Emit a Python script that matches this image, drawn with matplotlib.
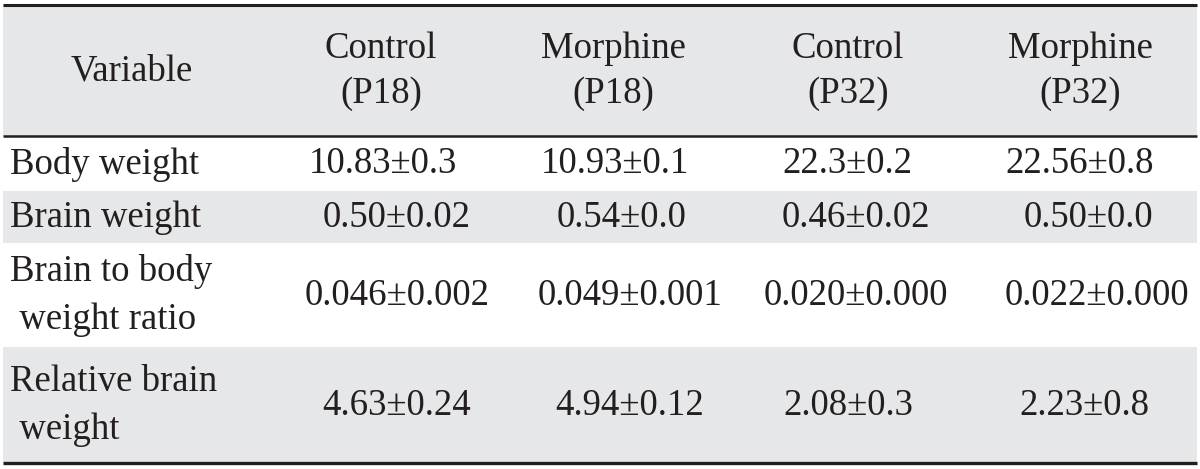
import matplotlib
matplotlib.use("Agg")
import matplotlib.pyplot as plt

# ---- data ----
header_labels = ["Variable", "Control\n(P18)", "Morphine\n(P18)", "Control\n(P32)", "Morphine\n(P32)"]
row_labels = ["Body weight", "Brain weight", "Brain to body\n weight ratio", "Relative brain\n weight"]
control_p18 = ["10.83±0.3", "0.50±0.02", "0.046±0.002", "4.63±0.24"]
morphine_p18 = ["10.93±0.1", "0.54±0.0", "0.049±0.001", "4.94±0.12"]
control_p32 = ["22.3±0.2", "0.46±0.02", "0.020±0.000", "2.08±0.3"]
morphine_p32 = ["22.56±0.8", "0.50±0.0", "0.022±0.000", "2.23±0.8"]

# ---- layout (pixels) ----
W, H = 1200, 469
header_x = [132, 381, 613, 848, 1080]
# horizontal centre of each body cell (row by row), as laid out in the source
cell_x = [
    [383, 615, 847, 1080],
    [397, 622, 856, 1088],
    [397, 630, 856, 1097],
    [397, 630, 848, 1084],
]
label_x = 10
x0, x1 = 3, 1197
header_top, header_bot = 5, 136
row_bounds = [136, 190, 243, 346, 463]
row_bg = ["white", "#e6e7e8", "white", "#e6e7e8"]
gray = "#e6e7e8"
fs = 26.5
font = "Liberation Serif"
tcolor = "#231f20"

fig = plt.figure(figsize=(W / 100, H / 100), dpi=100)
ax = fig.add_axes([0, 0, 1, 1])
ax.set_xlim(0, W)
ax.set_ylim(H, 0)
ax.axis("off")

# backgrounds
ax.fill_between([x0, x1], header_top, header_bot, color=gray, lw=0)
for i, bg in enumerate(row_bg):
    if bg != "white":
        ax.fill_between([x0, x1], row_bounds[i] + 1, row_bounds[i + 1], color=bg, lw=0)

# rules
ax.plot([x0, x1], [header_top, header_top], color=tcolor, lw=2.2, solid_capstyle="butt")
ax.plot([x0, x1], [header_bot, header_bot], color=tcolor, lw=1.8, solid_capstyle="butt")
ax.plot([x0, x1], [row_bounds[-1], row_bounds[-1]], color=tcolor, lw=2.4, solid_capstyle="butt")

# header text
hy = (header_top + header_bot) / 2 + 0.5
for cx, lab in zip(header_x, header_labels):
    ax.text(cx, hy, lab, ha="center", va="center", fontsize=fs, family=font,
            color=tcolor, linespacing=1.38)

# body
cols = [control_p18, morphine_p18, control_p32, morphine_p32]
for i, lab in enumerate(row_labels):
    cy = (row_bounds[i] + row_bounds[i + 1]) / 2 + 1
    ax.text(label_x, cy, lab, ha="left", va="center", fontsize=fs, family=font,
            color=tcolor, linespacing=1.5)
    for j, col in enumerate(cols):
        ax.text(cell_x[i][j], cy, col[i], ha="center", va="center", fontsize=fs,
                family=font, color=tcolor)

fig.savefig("out.png", dpi=100, facecolor="white")
